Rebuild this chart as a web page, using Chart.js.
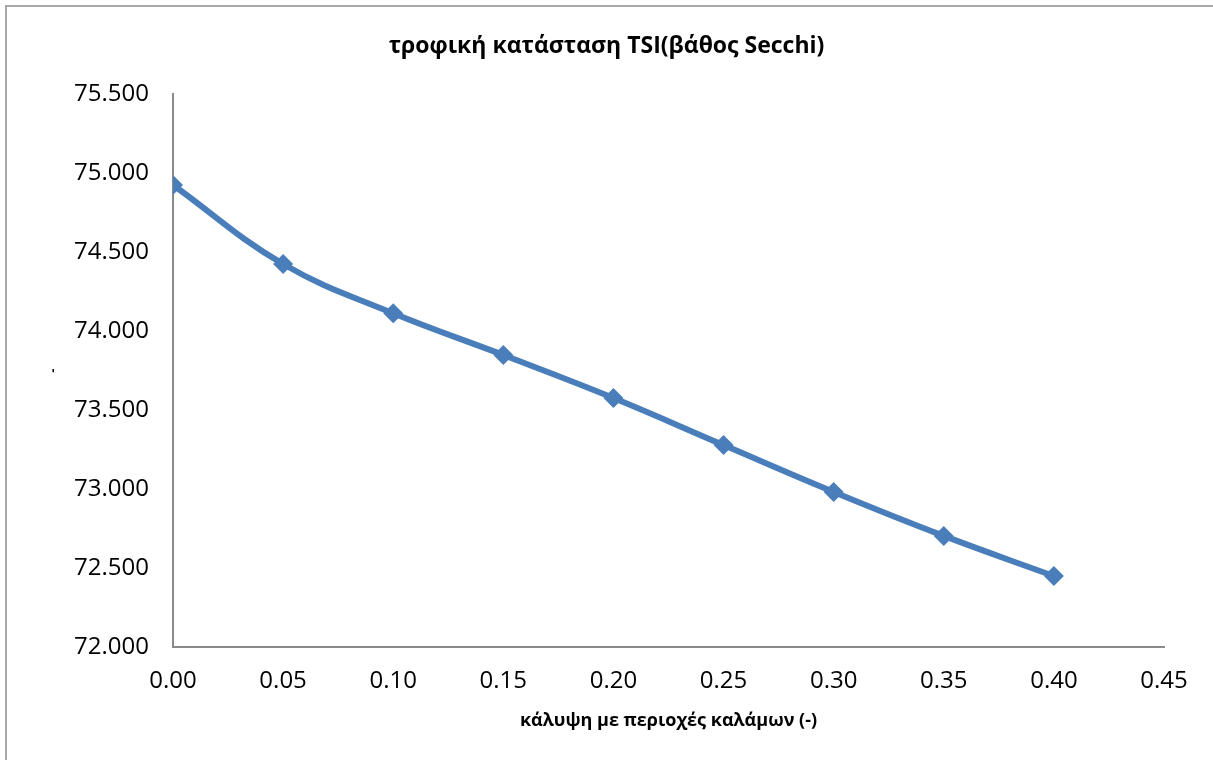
<!DOCTYPE html>
<html>
<head>
<meta charset="utf-8">
<script src="https://cdn.jsdelivr.net/npm/chart.js@4"></script>
<style>
html,body{margin:0;padding:0;background:#fff;}
#wrap{width:1213px;height:760px;}
</style>
</head>
<body>
<div id="wrap"><canvas id="c" width="1213" height="760"></canvas></div>
<script>
const coverage = [0.00, 0.05, 0.10, 0.15, 0.20, 0.25, 0.30, 0.35, 0.40];
const tsiSecchi = [74.924, 74.424, 74.112, 73.848, 73.576, 73.278, 72.981, 72.703, 72.449];
const chartTitle = 'τροφική κατάσταση TSI(βάθος Secchi)';
const xTitle = 'κάλυψη με περιοχές καλάμων (-)';
const yTitle = '-';

const points = coverage.map((x, i) => ({x: x, y: tsiSecchi[i]}));

const frame = {
  id: 'frame',
  beforeDraw(chart) {
    const ctx = chart.ctx;
    ctx.save();
    ctx.fillStyle = '#ffffff';
    ctx.fillRect(0, 0, chart.width, chart.height);
    ctx.strokeStyle = '#a8a8a8';
    ctx.lineWidth = 2;
    ctx.beginPath();
    ctx.moveTo(6, chart.height);
    ctx.lineTo(6, 6);
    ctx.lineTo(chart.width, 6);
    ctx.stroke();
    ctx.restore();
  }
};

new Chart(document.getElementById('c'), {
  type: 'line',
  data: {
    datasets: [{
      data: points,
      borderColor: '#4a7ebb',
      backgroundColor: '#4a7ebb',
      borderWidth: 6,
      tension: 0.4,
      pointStyle: 'rectRot',
      pointRadius: 10,
      pointHoverRadius: 10,
      pointBorderWidth: 0,
      fill: false
    }]
  },
  options: {
    responsive: false,
    animation: false,
    devicePixelRatio: 1,
    layout: {padding: {left: 0, right: 0, top: 0, bottom: 0}},
    plugins: {
      legend: {display: false},
      tooltip: {enabled: false},
      title: {
        display: true,
        text: chartTitle,
        color: '#000',
        font: {family: 'Open Sans', size: 23, weight: 'bold', lineHeight: 1.2},
        padding: {top: 33, bottom: 33.4}
      }
    },
    scales: {
      x: {
        type: 'linear',
        min: 0,
        max: 0.45,
        grid: {display: false, drawTicks: false},
        border: {display: true, color: '#8a8a8a', width: 2},
        ticks: {
          stepSize: 0.05,
          padding: 20,
          color: '#000',
          font: {family: 'Open Sans', size: 24},
          callback: v => Number(v).toFixed(2)
        },
        title: {
          display: true,
          text: xTitle,
          color: '#000',
          font: {family: 'Open Sans', size: 18, weight: 'bold'},
          padding: {top: 4, bottom: 28}
        },
        afterFit(scale) { scale.height = 113; }
      },
      y: {
        min: 72,
        max: 75.5,
        grid: {display: false, drawTicks: false},
        border: {display: true, color: '#8a8a8a', width: 2},
        ticks: {
          stepSize: 0.5,
          padding: 24,
          color: '#000',
          font: {family: 'Open Sans', size: 24},
          callback: v => Number(v).toFixed(3)
        },
        title: {
          display: true,
          text: yTitle,
          color: '#000',
          font: {family: 'Open Sans', size: 12, weight: 'bold'},
          padding: {top: 46, bottom: 0}
        },
        afterFit(scale) { scale.width = 173; }
      },
      spacer: {
        type: 'linear',
        position: 'right',
        display: true,
        grid: {display: false, drawTicks: false},
        border: {display: false},
        ticks: {display: false},
        afterFit(scale) { scale.width = 49; }
      }
    }
  },
  plugins: [frame]
});
</script>
</body>
</html>
